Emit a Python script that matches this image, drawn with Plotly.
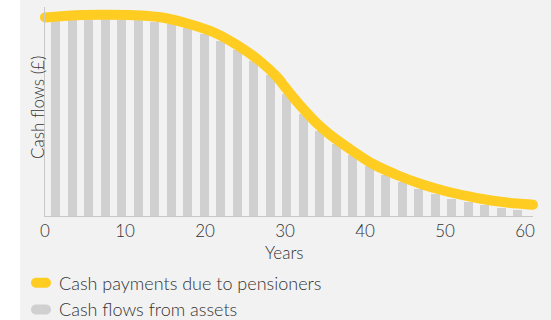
import plotly.graph_objects as go

# Pension liability profile (yellow line) and asset cash flows (grey bars)
line_years = [0, 4, 8, 12, 15, 18, 21, 24, 27, 29, 30, 31, 32, 33, 34, 35, 36, 38, 41, 44, 47,
              50, 53, 56, 59, 61]
line_values = [99.3, 100.4, 100.6, 100.2, 99.0, 96.0, 92.0, 85.5, 77.0, 69.5, 64.5, 59.5, 54.8,
               50.4, 46.3, 42.7, 39.5, 33.8, 26.0, 20.5, 16.0, 12.5, 9.8, 7.6, 6.2, 5.6]

bar_years = [1.36, 3.42, 5.48, 7.55, 9.61, 11.67, 13.73, 15.79, 17.86, 19.92, 21.98, 24.04,
             26.10, 28.17, 30.23, 32.29, 34.35, 36.41, 38.48, 40.54, 42.60, 44.66, 46.72,
             48.79, 50.85, 52.91, 54.97, 57.03, 59.10]
bar_values = [97.4, 97.9, 98.2, 98.3, 98.1, 97.9, 97.2, 95.9, 93.9, 91.1, 87.6, 83.1,
              77.3, 70.3, 61.1, 51.2, 42.7, 36.0, 30.3, 24.9, 20.6, 16.8, 13.5,
              10.9, 8.7, 6.9, 5.4, 4.1, 3.2]

x_ticks = [0, 10, 20, 30, 40, 50, 60]
line_name = "Cash payments due to pensioners"
bar_name = "Cash flows from assets"
x_title = "Years"
y_title = "Cash flows (£)"

YELLOW = "#FFCC22"
GREY_BAR = "#D0D0D0"
BG = "#F2F2F2"
TEXT = "#333333"
FONT = "Lato"

W, H = 551, 320
L, R, T, B = 45, 18, 7, 104
PW, PH = W - L - R, H - T - B


def px_x(px):
    return (px - L) / PW


def px_y(py):
    return (H - B - py) / PH


def font(size):
    return dict(size=size, color=TEXT, family=FONT, weight=300)


fig = go.Figure()
fig.add_trace(go.Bar(x=bar_years, y=bar_values, width=1.125, marker_color=GREY_BAR,
                     marker_line_width=0, name=bar_name, showlegend=False))
fig.add_trace(go.Scatter(x=line_years, y=line_values, mode="lines", name=line_name,
                         line=dict(color=YELLOW, width=10, shape="spline", smoothing=1),
                         showlegend=False, cliponaxis=False))
# round caps at both ends of the line
fig.add_trace(go.Scatter(x=[line_years[0], line_years[-1]], y=[line_values[0], line_values[-1]],
                         mode="markers", marker=dict(color=YELLOW, size=10, line_width=0),
                         showlegend=False, hoverinfo="skip", cliponaxis=False))

pill = ("M-5,-5 L5,-5 C7.76,-5 10,-2.76 10,0 C10,2.76 7.76,5 5,5 L-5,5 "
        "C-7.76,5 -10,2.76 -10,0 C-10,-2.76 -7.76,-5 -5,-5 Z")

shapes = [
    dict(type="rect", xref="paper", yref="paper", x0=px_x(20), x1=px_x(W), y0=px_y(H), y1=px_y(0),
         fillcolor=BG, line_width=0, layer="below"),
]
for cy, col in [(282.7, YELLOW), (309.5, GREY_BAR)]:
    shapes.append(dict(type="path", xref="paper", yref="paper", xsizemode="pixel", ysizemode="pixel",
                       xanchor=px_x(41), yanchor=px_y(cy), path=pill, fillcolor=col, line_width=0))

annotations = [
    dict(text=y_title, xref="paper", yref="paper", x=px_x(37), y=px_y(108), textangle=-90,
         showarrow=False, xanchor="center", yanchor="middle", font=font(17)),
    dict(text=x_title, xref="paper", yref="paper", x=px_x(284), y=px_y(253),
         showarrow=False, xanchor="center", yanchor="middle", font=font(17)),
    dict(text=line_name, xref="paper", yref="paper", x=px_x(57), y=px_y(283),
         showarrow=False, xanchor="left", yanchor="middle", font=font(18)),
    dict(text=bar_name, xref="paper", yref="paper", x=px_x(57), y=px_y(309),
         showarrow=False, xanchor="left", yanchor="middle", font=font(18)),
]

fig.update_layout(
    width=W, height=H,
    margin=dict(l=L, r=R, t=T, b=B),
    paper_bgcolor="white", plot_bgcolor=BG,
    bargap=0, showlegend=False,
    shapes=shapes, annotations=annotations,
    font=dict(family=FONT, color=TEXT),
    xaxis=dict(range=[0, 61], tickvals=x_ticks, showgrid=False, zeroline=False,
               showline=True, linecolor="#C8C8C8", linewidth=1, ticks="",
               tickfont=font(17)),
    yaxis=dict(range=[0, 104.5], showgrid=False, zeroline=False, showticklabels=False,
               showline=True, linecolor="#C8C8C8", linewidth=1, ticks=""),
)

fig.write_html("out.html")
